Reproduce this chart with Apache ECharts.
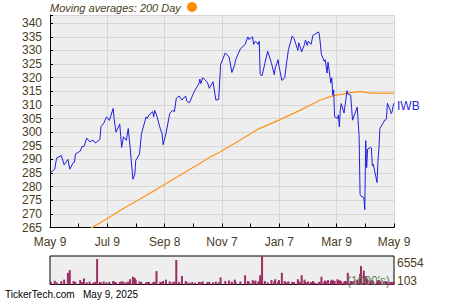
<!DOCTYPE html>
<html><head><meta charset="utf-8">
<script src="https://cdn.jsdelivr.net/npm/echarts@6/dist/echarts.min.js"></script>
<style>html,body{margin:0;padding:0;background:#fff}#c{width:450px;height:300px}</style>
</head><body><div id="c"></div>
<script>
// ---- data ----
const dates = [
 '2024-05-10','2024-05-14','2024-05-16','2024-05-21','2024-05-24','2024-05-28','2024-05-30',
 '2024-06-03','2024-06-04','2024-06-05','2024-06-10','2024-06-12','2024-06-14','2024-06-17','2024-06-20','2024-06-24','2024-06-26','2024-06-28',
 '2024-07-01','2024-07-02','2024-07-05','2024-07-08','2024-07-11','2024-07-15','2024-07-16','2024-07-18','2024-07-22','2024-07-24','2024-07-26','2024-07-29','2024-07-31',
 '2024-08-02','2024-08-05','2024-08-07','2024-08-08','2024-08-12','2024-08-14','2024-08-19','2024-08-20','2024-08-22','2024-08-26','2024-08-27','2024-08-28','2024-08-30',
 '2024-09-03','2024-09-05','2024-09-06','2024-09-09','2024-09-13','2024-09-16','2024-09-18','2024-09-20','2024-09-23','2024-09-26','2024-09-30',
 '2024-10-01','2024-10-04','2024-10-07','2024-10-10','2024-10-14','2024-10-15','2024-10-16','2024-10-18','2024-10-23','2024-10-25','2024-10-29',
 '2024-11-01','2024-11-04','2024-11-06','2024-11-11','2024-11-15','2024-11-18','2024-11-21','2024-11-22','2024-11-27',
 '2024-12-02','2024-12-05','2024-12-06','2024-12-10','2024-12-11','2024-12-13','2024-12-16','2024-12-17','2024-12-18','2024-12-20','2024-12-23','2024-12-26','2024-12-30',
 '2025-01-02','2025-01-03','2025-01-06','2025-01-07','2025-01-10','2025-01-13','2025-01-15','2025-01-17','2025-01-21','2025-01-23','2025-01-27','2025-01-28','2025-01-29','2025-01-31',
 '2025-02-03','2025-02-04','2025-02-06','2025-02-07','2025-02-10','2025-02-12','2025-02-14','2025-02-18','2025-02-19','2025-02-21','2025-02-24','2025-02-25','2025-02-27','2025-02-28',
 '2025-03-03','2025-03-04','2025-03-05','2025-03-06','2025-03-07','2025-03-10','2025-03-11','2025-03-12','2025-03-13','2025-03-14','2025-03-17','2025-03-18','2025-03-19','2025-03-20','2025-03-21','2025-03-24','2025-03-25','2025-03-26','2025-03-28','2025-03-31',
 '2025-04-02','2025-04-03','2025-04-04','2025-04-07','2025-04-08','2025-04-09','2025-04-10','2025-04-11','2025-04-14','2025-04-15','2025-04-16','2025-04-17','2025-04-21','2025-04-22','2025-04-23','2025-04-24','2025-04-25','2025-04-28','2025-04-29','2025-04-30',
 '2025-05-01','2025-05-02','2025-05-05','2025-05-06','2025-05-07','2025-05-08','2025-05-09'
];
const closes = [
 285.2,286.4,290.5,291.4,288.0,290.0,286.4,
 289.0,289.0,292.0,293.0,294.7,294.7,297.8,296.5,297.0,296.0,296.5,
 297.3,302.0,303.3,305.6,304.3,308.7,305.0,300.0,303.0,294.4,298.3,297.0,301.3,
 294.4,282.7,284.5,289.6,292.0,299.4,305.6,305.0,306.3,307.5,305.6,308.0,306.3,
 301.3,299.4,295.4,299.4,306.8,308.0,307.5,312.4,313.3,311.8,313.3,
 311.5,310.8,313.3,315.5,317.8,319.5,317.8,320.0,318.3,316.1,318.5,
 311.8,312.0,324.8,329.1,327.6,321.9,324.8,326.6,330.6,
 332.2,335.0,334.0,335.0,332.2,333.4,332.2,333.4,321.1,320.7,325.3,329.7,325.3,
 321.1,323.5,326.6,324.2,319.0,319.9,325.3,330.3,335.3,334.3,330.0,332.8,331.8,329.4,
 332.2,333.8,331.8,333.4,332.2,335.5,335.9,336.8,335.3,328.5,326.0,326.6,321.7,325.7,
 318.0,319.9,313.6,315.5,305.6,305.0,306.3,301.9,308.0,310.5,307.0,309.7,312.0,315.2,314.0,313.6,309.0,304.4,306.3,309.2,
 298.2,277.1,276.5,276.0,271.6,296.9,287.0,293.8,294.4,294.2,287.7,288.2,281.5,289.6,293.8,301.3,301.9,303.7,304.4,304.4,
 305.0,310.6,308.1,306.8,307.5,309.4,310.6
];
const volumes = [
 700,950,600,850,1200,2750,3360,
 900,600,700,1100,650,1470,600,750,550,700,5870,
 650,550,800,600,700,900,750,600,650,850,700,600,750,
 1300,1850,1600,1100,800,700,600,650,700,550,600,750,3140,
 700,650,900,1200,800,600,750,5650,700,2000,900,
 600,550,650,500,700,600,550,800,650,700,600,
 750,600,1700,900,1000,700,1200,650,800,
 2200,900,700,1100,800,1000,700,900,2200,6554,900,600,1100,
 800,1300,700,1100,2750,900,600,800,700,650,1300,800,600,2200,
 1200,700,600,800,650,900,550,600,700,1850,800,1000,700,1100,
 900,1200,800,1000,900,1300,1100,900,1000,800,700,900,800,700,2750,900,700,800,1000,1200,
 900,2500,4270,3250,1850,2000,1500,1200,1000,900,1100,800,1000,900,1100,800,700,600,700,900,
 800,700,600,650,700,600,550
];
const maDates = ['2024-06-17','2024-07-08','2024-07-25','2024-08-12','2024-08-30','2024-09-17','2024-10-04','2024-10-15','2024-10-25','2024-11-05','2024-11-26','2024-12-17','2025-01-07','2025-01-29','2025-02-20','2025-03-05','2025-03-24','2025-04-04','2025-04-14','2025-05-09'];
const maValues = [263.8,268.1,271.8,275.4,279.0,282.7,286.3,288.5,290.7,292.6,296.9,301.3,304.4,308.0,311.8,313.3,314.5,314.9,314.3,314.3];
const xTickLabels = ['May 9','Jul 9','Sep 8','Nov 7','Jan 7','Mar 9','May 9'];
const yMin = 265, yMax = 343, yStep = 5;
const volMinLabel = '103', volMaxLabel = '6554';
const volMin = 103, volMax = 6554;
const seriesName = 'IWB';
const legendText = 'Moving averages: 200 Day';
const footerSite = 'TickerTech.com', footerDate = 'May 9, 2025';

// ---- helpers ----
const START = Date.UTC(2024, 4, 9);
const MONTH = 365 / 12;
function pos(d) { const p = d.split('-').map(Number); return (Date.UTC(p[0], p[1] - 1, p[2]) - START) / 86400000 / MONTH; }
const FONT = '"Liberation Sans", Arial, sans-serif';
const TXT = '#4a3d1c';

const chart = echarts.init(document.getElementById('c'), null, { renderer: 'svg' });
chart.setOption({
  animation: false,
  backgroundColor: '#ffffff',
  textStyle: { fontFamily: FONT },
  grid: [
    { left: 50, top: 15, width: 344, height: 212.5, show: true, backgroundColor: '#eeeeee', borderWidth: 0, outerBoundsMode: 'none', containLabel: false },
    { left: 50, top: 256, width: 344, height: 28.5, show: true, backgroundColor: '#eeeeee', borderColor: '#000', borderWidth: 1, outerBoundsMode: 'none', containLabel: false }
  ],
  xAxis: [
    { type: 'value', gridIndex: 0, min: 0, max: 12, interval: 2,
      axisLine: { show: true, lineStyle: { color: '#000', width: 1 } },
      axisTick: { show: true, inside: true, length: 4, lineStyle: { color: '#000' } },
      minorTick: { show: true, splitNumber: 2, length: 4, lineStyle: { color: '#000' } },
      axisLabel: { show: true, margin: 8, color: TXT, fontSize: 12, fontFamily: FONT,
        formatter: v => xTickLabels[Math.round(v / 2)] || '' , showMinLabel: true, showMaxLabel: true, hideOverlap: false },
      splitLine: { show: true, lineStyle: { color: '#d6d6d6', width: 1 } },
      minorSplitLine: { show: false } },
    { type: 'value', gridIndex: 1, min: 0, max: 12, show: false }
  ],
  yAxis: [
    { type: 'value', gridIndex: 0, min: yMin, max: yMax, interval: yStep,
      axisLine: { show: true, lineStyle: { color: '#000', width: 1 } },
      axisTick: { show: true, inside: true, length: 3, lineStyle: { color: '#000' } },
      axisLabel: { show: true, margin: 8, color: TXT, fontSize: 12, fontFamily: FONT,
        formatter: v => (v % yStep === 0 ? String(v) : ''), showMinLabel: true, showMaxLabel: true, hideOverlap: false },
      splitLine: { show: true, lineStyle: { color: '#d6d6d6', width: 1 } } },
    { type: 'value', gridIndex: 1, min: volMin, max: volMax, show: false }
  ],
  series: [
    { type: 'bar', xAxisIndex: 1, yAxisIndex: 1, barWidth: 2, silent: true,
      itemStyle: { color: '#9a2d63' },
      data: dates.map((d, i) => [pos(d), volumes[i]]) },
    { type: 'line', name: '200 Day', xAxisIndex: 0, yAxisIndex: 0, showSymbol: false, symbol: 'none', clip: true,
      lineStyle: { color: '#ff9418', width: 1.2 },
      data: maDates.map((d, i) => [pos(d), maValues[i]]) },
    { type: 'line', name: seriesName, xAxisIndex: 0, yAxisIndex: 0, showSymbol: false, symbol: 'none', clip: true,
      lineStyle: { color: '#2020dd', width: 1 },
      endLabel: { show: true, formatter: seriesName, distance: 3, color: '#2525dd', fontSize: 12, fontFamily: FONT, offset: [0, 3] },
      data: dates.map((d, i) => [pos(d), closes[i]]) }
  ],
  graphic: [
    { type: 'text', left: 50, top: 2, style: { text: legendText, fill: TXT, font: 'italic 11px ' + FONT } },
    { type: 'circle', shape: { cx: 192, cy: 7, r: 5 }, style: { fill: '#ff8c00' } },
    { type: 'text', left: 397, top: 257, style: { text: volMaxLabel, fill: TXT, font: '12px ' + FONT } },
    { type: 'text', left: 397, top: 275, style: { text: volMinLabel, fill: TXT, font: '12px ' + FONT } },
    { type: 'text', right: 60, top: 275, z: 100, style: { text: "(1000's)", fill: '#5f7f5f', font: '12px ' + FONT } },
    { type: 'text', left: 5, top: 289, style: { text: footerSite, fill: '#000', font: '10px ' + FONT } },
    { type: 'text', left: 83, top: 289, style: { text: footerDate, fill: '#000', font: '10px ' + FONT } }
  ]
});
</script>
</body></html>
